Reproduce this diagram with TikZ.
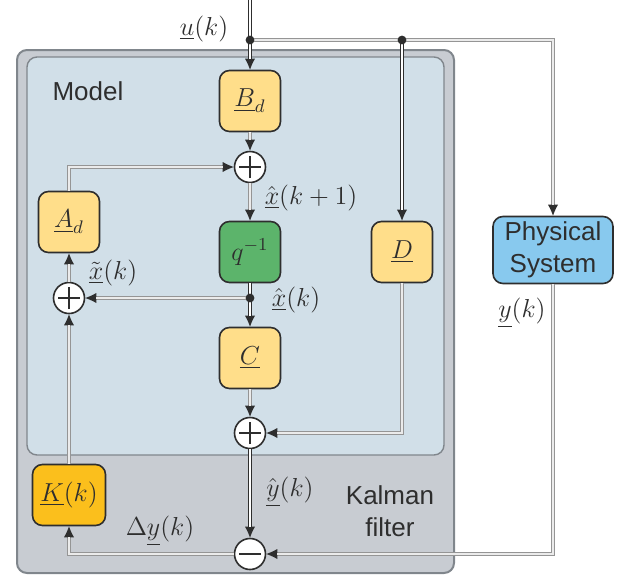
\RequirePackage{fix-cm}
\documentclass[tikz,border=0pt]{standalone}
\usepackage{amsmath}
\usepackage{fontspec}
\setsansfont{Liberation Sans}
\usepackage{tikz}
\usetikzlibrary{arrows.meta, positioning}
\usepackage{xcolor}
\definecolor{kfgray}{HTML}{C8CCD2}
\definecolor{modelblue}{HTML}{D1DFE8}
\definecolor{blockyellow}{HTML}{FFDE8A}
\definecolor{delaygreen}{HTML}{5CB46B}
\definecolor{gainorange}{HTML}{FBBF1C}
\definecolor{plantblue}{HTML}{88C9EE}
\definecolor{wiregray}{HTML}{959595}
\definecolor{wiredark}{HTML}{2E2E2E}
\definecolor{edgegray}{HTML}{80868C}

\tikzset{
  block/.style={draw=wiredark, line width=0.8pt, rounded corners=5pt, fill=blockyellow,
    minimum width=30.5pt, minimum height=30.5pt, inner sep=0pt, text=wiredark},
  sumnode/.style={circle, draw=wiredark, fill=white, line width=0.8pt, minimum size=15.5pt, inner sep=0pt},
  plus/.style={sumnode, path picture={
    \draw[wiredark, line width=0.7pt] ([xshift=-5.5pt]path picture bounding box.center) -- ([xshift=5.5pt]path picture bounding box.center)
      ([yshift=-5.5pt]path picture bounding box.center) -- ([yshift=5.5pt]path picture bounding box.center);}},
  minus/.style={sumnode, path picture={
    \draw[wiredark, line width=0.7pt] ([xshift=-5.5pt]path picture bounding box.center) -- ([xshift=5.5pt]path picture bounding box.center);}},
  wire/.style={draw=wiregray, line width=2pt, postaction={draw=white, line width=0.6pt}},
  wirearrow/.style={draw=wiregray, line width=2pt, -{Latex[length=5.5pt, width=5pt, line width=0pt, wiredark]},
    postaction={draw=white!92!black, line width=0.6pt, -, shorten >=5.5pt}},
  busarrow/.style={draw=wiredark, line width=2.4pt, -{Latex[length=5.5pt, width=5pt, line width=0pt, wiredark]},
    postaction={draw=white, line width=0.8pt, -, shorten >=5.5pt}},
  junction/.style={fill=wiredark},
  siglabel/.style={text=wiredark, inner sep=0pt},
  boxtext/.style={font=\sffamily\fontsize{13}{16}\selectfont, text=wiredark, inner sep=0pt},
}

\begin{document}
\begin{tikzpicture}[x=0.5pt, y=-0.5pt, font=\fontsize{13}{16}\selectfont]
\useasboundingbox (0,0) rectangle (622,574);

% filter and model frames
\draw[fill=kfgray, draw=edgegray, line width=1pt, rounded corners=5pt] (17,50) rectangle (454,573);
\draw[fill=modelblue, draw=edgegray, line width=0.7pt, rounded corners=5pt] (27,57) rectangle (444,455);
\node[boxtext] (modeltxt) at (88,91) {Model};
\node[boxtext, align=center] (kftxt) at (390,511) {Kalman\\filter};

% blocks
\node[block] (Bd) at (250,101) {$\underline{B}_d$};
\node[block] (Ad) at (69,222) {$\underline{A}_d$};
\node[block, fill=delaygreen] (delay) at (250,252) {$q^{-1}$};
\node[block] (C) at (250,358) {$\underline{C}$};
\node[block] (D) at (402,252) {$\underline{D}$};
\node[block, fill=gainorange, minimum width=36.5pt] (K) at (69,495) {$\underline{K}(k)$};
\node[block, fill=plantblue, minimum width=60pt, minimum height=33.5pt, align=center,
  font=\sffamily\fontsize{13}{16}\selectfont] (plant) at (553,250) {Physical\\System};

% summing points
\node[plus] (sumx) at (250,167) {};
\node[plus] (sumfb) at (69,298) {};
\node[plus] (sumy) at (250,433) {};
\node[minus] (err) at (250,554) {};

% branch points
\coordinate (uin) at (250,0);
\coordinate (usplit) at (250,40);
\coordinate (dsplit) at (402,40);
\coordinate (xsplit) at (250,298);

% connections
\draw[wirearrow] (usplit) -| (plant);
\draw[busarrow] (uin) -- (Bd);
\draw[busarrow] (dsplit) -- (D);
\draw[wirearrow] (Bd) -- (sumx);
\draw[wirearrow] (Ad.north) |- (sumx);
\draw[wirearrow] (sumx) -- (delay);
\draw[wirearrow] (xsplit) -- (sumfb);
\draw[busarrow] (delay) -- (C);
\draw[wirearrow] (sumfb) -- (Ad);
\draw[wirearrow] (K) -- (sumfb);
\draw[wirearrow] (C) -- (sumy);
\draw[wirearrow] (D) |- (sumy);
\draw[busarrow] (sumy) -- (err);
\draw[wirearrow] (plant) |- (err);
\draw[wirearrow] (err) -| (K);

\fill[junction] (usplit) circle (2.2pt);
\fill[junction] (dsplit) circle (2.2pt);
\fill[junction] (xsplit) circle (2.2pt);

% signal labels
\node[siglabel] (ulab) at (204,29) {$\underline{u}(k)$};
\node[siglabel] (xnextlab) at (311,198) {$\hat{\underline{x}}(k+1)$};
\node[siglabel] (xtildelab) at (113,273) {$\tilde{\underline{x}}(k)$};
\node[siglabel] (xhatlab) at (296,300) {$\hat{\underline{x}}(k)$};
\node[siglabel] (ylab) at (522,313) {$\underline{y}(k)$};
\node[siglabel] (yhatlab) at (290,492) {$\hat{\underline{y}}(k)$};
\node[siglabel] (dylab) at (160,531) {$\Delta\underline{y}(k)$};
\end{tikzpicture}
\end{document}
